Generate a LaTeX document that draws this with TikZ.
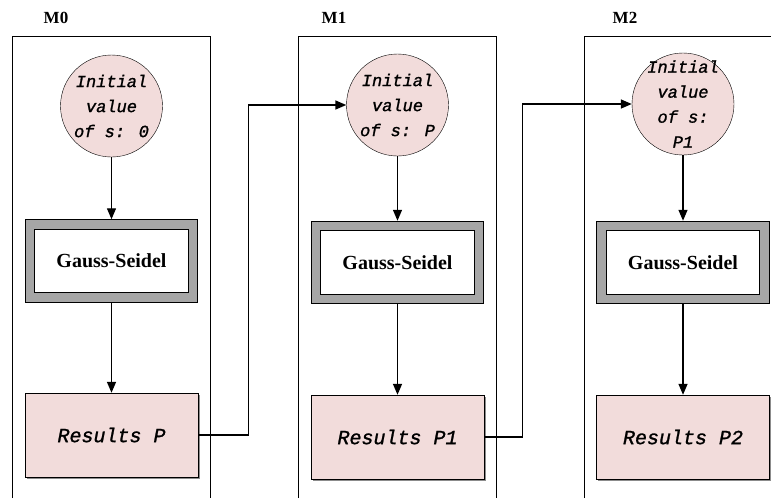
\documentclass[tikz,border=0pt]{standalone}
\usepackage{fontspec}
\setmainfont{Liberation Serif}
\newfontfamily\seedfont{Liberation Mono}[UprightFont=* Italic,FakeBold=1.2]
\usetikzlibrary{arrows.meta,shadows}
\definecolor{SeedPink}{RGB}{242,220,219}
\definecolor{SolverGray}{RGB}{166,166,166}

\begin{document}
\begin{tikzpicture}[x=1pt,y=-1pt,
    every node/.style={align=center},
    lanetitle/.style={font=\bfseries\fontsize{17}{20}\selectfont},
    seed/.style={draw,circle,fill=SeedPink,minimum size=102pt,inner sep=-8pt,
      font=\seedfont\fontsize{17}{25}\selectfont},
    solver/.style={draw,line width=1pt,double=SolverGray,double distance=8.5pt,fill=white,
      minimum width=163pt,minimum height=73pt,outer sep=5.25pt,
      font=\bfseries\fontsize{20}{24}\selectfont},
    result/.style={draw,fill=SeedPink,minimum width=173pt,minimum height=84pt,
      drop shadow={shadow xshift=1.5pt,shadow yshift=-1.5pt,fill=black!45,opacity=1},
      font=\seedfont\fontsize{20}{24}\selectfont},
    flow/.style={-{Triangle[length=11pt,width=9pt]},line width=1.4pt}]
  \useasboundingbox (0,0) rectangle (771,498);

  % lanes
  \draw[line width=0.8pt] (12,498) -- (12,36) -- (210,36) -- (210,498);
  \draw[line width=0.8pt] (298,498) -- (298,36) -- (496,36) -- (496,498);
  \draw[line width=0.8pt] (584,498) -- (584,36) -- (771,36);
  \node[lanetitle] (m0) at (56,18) {M0};
  \node[lanetitle] (m1) at (334,18) {M1};
  \node[lanetitle] (m2) at (625,18) {M2};

  % M0
  \node[seed] (init0) at (111.5,106) {Initial\\value\\of s: 0};
  \node[solver] (gs0) at (111.5,261) {Gauss-Seidel};
  \node[result] (res0) at (111.5,435) {Results P};

  % M1
  \node[seed] (init1) at (397.5,105) {Initial\\value\\of s: P};
  \node[solver] (gs1) at (397.5,262.5) {Gauss-Seidel};
  \node[result] (res1) at (397.5,437) {Results P1};

  % M2
  \node[seed] (init2) at (683,104) {Initial\\value\\of s:\\P1};
  \node[solver] (gs2) at (683,262.5) {Gauss-Seidel};
  \node[result] (res2) at (683,437) {Results P2};

  \draw[flow] (init0) -- (gs0);
  \draw[flow] (gs0) -- (res0);
  \draw[flow] (init1) -- (gs1);
  \draw[flow] (gs1) -- (res1);
  \draw[flow] (init2) -- (gs2);
  \draw[flow] (gs2) -- (res2);

  % hand-over between lanes
  \draw[flow] (res0.east) -- ++(50,0) |- (init1.west);
  \draw[flow] (res1.east) -- ++(38,0) |- (init2.west);
\end{tikzpicture}
\end{document}
